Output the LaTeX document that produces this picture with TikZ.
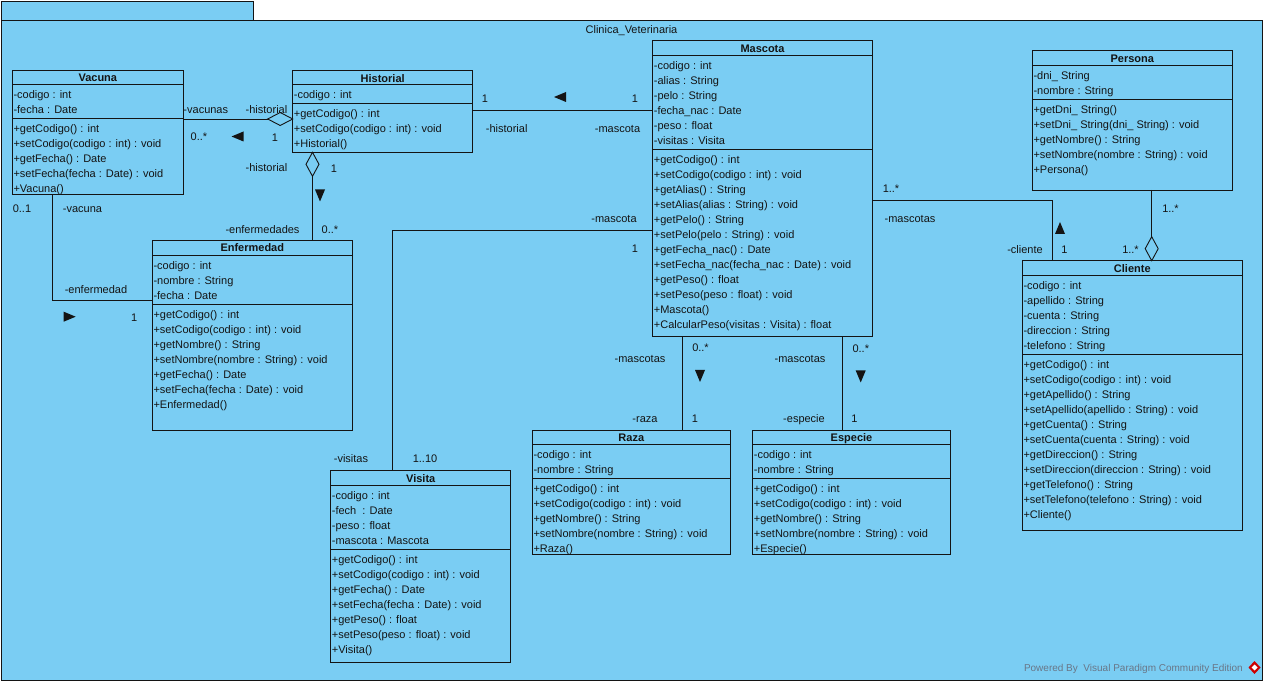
\documentclass[tikz,border=0pt]{standalone}
\usepackage{fontspec}
\setmainfont{Liberation Sans}
\definecolor{vpblue}{RGB}{122,205,243}
\definecolor{vpline}{RGB}{20,20,20}
\definecolor{wmgray}{RGB}{105,118,135}
\newcommand\ubox[6]{%
  \node[cbox, minimum width=#4pt, minimum height=#5pt] (#1) at (#2,#3) {};
  \node[ctitle] (#1-t) at ([yshift=-7.3pt]#1.north) {#6};}
\newcommand\ucomp[4]{%
  \draw[conn] ([yshift=-#3pt]#1.north west) -- ([yshift=-#3pt]#1.north east);
  \foreach \t [count=\i] in {#4} {%
    \pgfmathsetmacro\yy{#3+9.7+15*(\i-1)}
    \node[mem] (#1-#2\i) at ([xshift=1pt,yshift=-\yy pt]#1.north west) {\t};}}
\newcommand\trileft[2]{\fill[dirtri] (#1-6,#2) -- (#1+6,#2-5) -- (#1+6,#2+5) -- cycle;}
\newcommand\triright[2]{\fill[dirtri] (#1+6,#2) -- (#1-6,#2-5) -- (#1-6,#2+5) -- cycle;}
\newcommand\tridown[2]{\fill[dirtri] (#1,#2+6) -- (#1-5,#2-6) -- (#1+5,#2-6) -- cycle;}
\newcommand\triup[2]{\fill[dirtri] (#1,#2-6) -- (#1-5,#2+6) -- (#1+5,#2+6) -- cycle;}
\begin{document}
\begin{tikzpicture}[x=1pt,y=-1pt,
  cbox/.style={draw=vpline, line width=0.9pt, fill=vpblue, rectangle, inner sep=0pt, outer sep=0pt, anchor=north west},
  ctitle/.style={font=\fontsize{11}{13}\selectfont\bfseries, text=vpline, inner sep=0pt, text height=11.2pt, text depth=2.5pt},
  mem/.style={font=\fontsize{11}{13}\selectfont, text=vpline, inner sep=0pt, anchor=west, text height=11.2pt, text depth=2.5pt},
  lbl/.style={font=\fontsize{11}{13}\selectfont, text=vpline, inner sep=0pt, text height=10.8pt, text depth=2.5pt},
  conn/.style={draw=vpline, line width=0.9pt},
  diam/.style={draw=vpline, line width=0.9pt, fill=vpblue, line join=miter},
  dirtri/.style={fill=vpline}]
\useasboundingbox (0,0) rectangle (1266,684);
\fill[white] (0,0) rectangle (1266,684);
% package frame
\node[cbox, minimum width=252pt, minimum height=19pt] (pkgtab) at (1,1) {};
\node[cbox, minimum width=1261pt, minimum height=660pt] (pkg) at (1,20) {};
\node[lbl] (pkgtitle) at (631.5,29.5) {Clinica\_Veterinaria};

% connector coordinates
\coordinate (vh) at (0,119);
\coordinate (hm) at (0,110.7);
\coordinate (he) at (312.5,0);
\coordinate (ve) at (52.3,300);
\coordinate (mv) at (392.3,230.7);
\coordinate (mr) at (682.3,0);
\coordinate (me) at (842.7,0);
\coordinate (mc) at (1052.3,200.3);
\coordinate (pc) at (1151.7,0);

% classes
\ubox{vacuna}{12.3}{70.3}{171}{124}{Vacuna}
\ucomp{vacuna}{a}{14}{{-codigo : int},{-fecha : Date}}
\ucomp{vacuna}{m}{48}{{+getCodigo() : int},{+setCodigo(codigo : int) : void},{+getFecha() : Date},{+setFecha(fecha : Date) : void},{+Vacuna()}}

\ubox{historial}{292.7}{70.7}{180}{81.6}{Historial}
\ucomp{historial}{a}{13.6}{{-codigo : int}}
\ucomp{historial}{m}{32.6}{{+getCodigo() : int},{+setCodigo(codigo : int) : void},{+Historial()}}

\ubox{mascota}{652.7}{40.7}{219.6}{296}{Mascota}
\ucomp{mascota}{a}{14.3}{{-codigo : int},{-alias : String},{-pelo : String},{-fecha\_nac : Date},{-peso : float},{-visitas : Visita}}
\ucomp{mascota}{m}{108.6}{{+getCodigo() : int},{+setCodigo(codigo : int) : void},{+getAlias() : String},{+setAlias(alias : String) : void},{+getPelo() : String},{+setPelo(pelo : String) : void},{+getFecha\_nac() : Date},{+setFecha\_nac(fecha\_nac : Date) : void},{+getPeso() : float},{+setPeso(peso : float) : void},{+Mascota()},{+CalcularPeso(visitas : Visita) : float}}

\ubox{persona}{1032.3}{50.7}{200}{139.3}{Persona}
\ucomp{persona}{a}{14.3}{{-dni\_ String},{-nombre : String}}
\ucomp{persona}{m}{49}{{+getDni\_ String()},{+setDni\_ String(dni\_ String) : void},{+getNombre() : String},{+setNombre(nombre : String) : void},{+Persona()}}

\ubox{enfermedad}{152.3}{240}{200}{190}{Enfermedad}
\ucomp{enfermedad}{a}{15.7}{{-codigo : int},{-nombre : String},{-fecha : Date}}
\ucomp{enfermedad}{m}{64.3}{{+getCodigo() : int},{+setCodigo(codigo : int) : void},{+getNombre() : String},{+setNombre(nombre : String) : void},{+getFecha() : Date},{+setFecha(fecha : Date) : void},{+Enfermedad()}}

\ubox{visita}{330.7}{470.7}{180}{191.6}{Visita}
\ucomp{visita}{a}{14.6}{{-codigo : int},{-fech\ \ : Date},{-peso : float},{-mascota : Mascota}}
\ucomp{visita}{m}{78.6}{{+getCodigo() : int},{+setCodigo(codigo : int) : void},{+getFecha() : Date},{+setFecha(fecha : Date) : void},{+getPeso() : float},{+setPeso(peso : float) : void},{+Visita()}}

\ubox{raza}{532.3}{430.3}{198}{123.7}{Raza}
\ucomp{raza}{a}{14.4}{{-codigo : int},{-nombre : String}}
\ucomp{raza}{m}{48}{{+getCodigo() : int},{+setCodigo(codigo : int) : void},{+getNombre() : String},{+setNombre(nombre : String) : void},{+Raza()}}

\ubox{especie}{752.7}{430.3}{197.6}{123.7}{Especie}
\ucomp{especie}{a}{14.4}{{-codigo : int},{-nombre : String}}
\ucomp{especie}{m}{48}{{+getCodigo() : int},{+setCodigo(codigo : int) : void},{+getNombre() : String},{+setNombre(nombre : String) : void},{+Especie()}}

\ubox{cliente}{1022.3}{260.7}{220}{269.3}{Cliente}
\ucomp{cliente}{a}{14.3}{{-codigo : int},{-apellido : String},{-cuenta : String},{-direccion : String},{-telefono : String}}
\ucomp{cliente}{m}{93.6}{{+getCodigo() : int},{+setCodigo(codigo : int) : void},{+getApellido() : String},{+setApellido(apellido : String) : void},{+getCuenta() : String},{+setCuenta(cuenta : String) : void},{+getDireccion() : String},{+setDireccion(direccion : String) : void},{+getTelefono() : String},{+setTelefono(telefono : String) : void},{+Cliente()}}

% connectors
\draw[conn] (vacuna.east |- vh) -- (historial.west |- vh);
\draw[conn] (historial.east |- hm) -- (mascota.west |- hm);
\draw[conn] (historial.south -| he) -- (enfermedad.north -| he);
\draw[conn] (vacuna.south -| ve) -- (ve) -- (enfermedad.west |- ve);
\draw[conn] (mascota.west |- mv) -- (mv) -- (visita.north -| mv);
\draw[conn] (mascota.south -| mr) -- (raza.north -| mr);
\draw[conn] (mascota.south -| me) -- (especie.north -| me);
\draw[conn] (mascota.east |- mc) -- (mc) -- (cliente.north -| mc);
\draw[conn] (persona.south -| pc) -- (cliente.north -| pc);

% aggregation diamonds
\draw[diam] (historial.west |- vh) -- ++(-12.5,-6.5) -- ++(-12.5,6.5) -- ++(12.5,6.5) -- cycle;
\draw[diam] (historial.south -| he) -- ++(6.5,12) -- ++(-6.5,12) -- ++(-6.5,-12) -- cycle;
\draw[diam] (cliente.north -| pc) -- ++(6.5,-12) -- ++(-6.5,-12) -- ++(-6.5,12) -- cycle;

% direction triangles
\trileft{237.5}{136.5}
\tridown{320}{195.5}
\trileft{560}{97}
\triright{69.7}{316.7}
\tridown{700}{376}
\tridown{860.7}{376.5}
\triup{1060}{228}

% role and multiplicity labels
\foreach \p/\t [count=\i] in {
  {(205.8,109)}/{-vacunas}, {(266.5,109)}/{-historial}, {(199,136.7)}/{0..*}, {(275,137)}/{1},
  {(266.5,167.7)}/{-historial}, {(334,168.3)}/{1}, {(262.5,229)}/{-enfermedades}, {(330,229)}/{0..*},
  {(22,208.3)}/{0..1}, {(82.5,208.3)}/{-vacuna}, {(96,289)}/{-enfermedad}, {(134.3,317.7)}/{1},
  {(485,98.3)}/{1}, {(635,98.3)}/{1}, {(506.7,128.3)}/{-historial}, {(617.5,128.3)}/{-mascota},
  {(614,218.3)}/{-mascota}, {(635,248.3)}/{1}, {(351,458.3)}/{-visitas}, {(425,458.3)}/{1..10},
  {(640,358.3)}/{-mascotas}, {(700.5,347.3)}/{0..*}, {(645,418.3)}/{-raza}, {(695,418.3)}/{1},
  {(800,358.3)}/{-mascotas}, {(860.8,348.3)}/{0..*}, {(804,418.3)}/{-especie}, {(854.3,418.3)}/{1},
  {(891,188.3)}/{1..*}, {(910,218.3)}/{-mascotas}, {(1025,249)}/{-cliente}, {(1064.3,249)}/{1},
  {(1130.5,249)}/{1..*}, {(1170.5,208.3)}/{1..*}}
  \node[lbl] (lbl\i) at \p {\t};

% watermark
\node[font=\fontsize{10}{12}\selectfont, text=wmgray, anchor=east, inner sep=0pt, text height=9pt, text depth=2pt] (wm) at (1243,668) {Powered By\ \ Visual Paradigm Community Edition};
\fill[red!80!black] (1254.5,661) -- (1260.5,667.5) -- (1254.5,674) -- (1248.5,667.5) -- cycle;
\fill[white] (1254.5,664.5) -- (1257.5,667.5) -- (1254.5,670.5) -- (1251.5,667.5) -- cycle;
\end{tikzpicture}
\end{document}
